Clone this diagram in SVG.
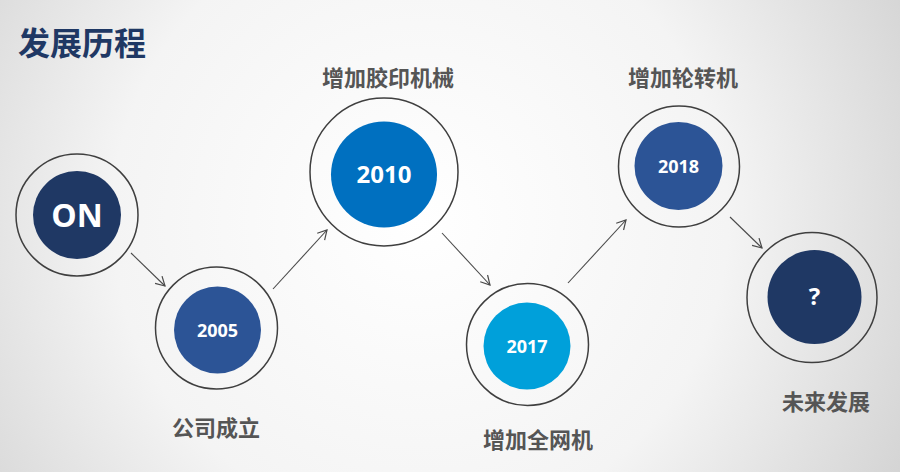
<svg xmlns="http://www.w3.org/2000/svg" width="900" height="472" viewBox="0 0 900 472">
<defs>
<radialGradient id="bg" cx="420" cy="220" r="560" gradientUnits="userSpaceOnUse">
<stop offset="0" stop-color="#ffffff"/>
<stop offset="0.55" stop-color="#f4f4f4"/>
<stop offset="1" stop-color="#d2d2d2"/>
</radialGradient>
<marker id="arr" markerWidth="12" markerHeight="12" refX="10" refY="6" orient="auto" markerUnits="userSpaceOnUse">
<path d="M1,1 L10,6 L1,11" fill="none" stroke="#4a4a4a" stroke-width="1.2"/>
</marker>
</defs>
<style>
.ring{fill:none;stroke:#3f3f3f;stroke-width:1.5}
.lbl{font-family:"Noto Sans CJK SC",sans-serif;font-weight:bold;font-size:22px;fill:#555555;text-anchor:middle}
.num{font-family:"Open Sans","Noto Sans",sans-serif;font-weight:bold;fill:#ffffff;text-anchor:middle}
.conn{stroke:#4a4a4a;stroke-width:1.1;fill:none;marker-end:url(#arr)}
</style>
<rect width="900" height="472" fill="url(#bg)"/>
<text x="18" y="55" font-family="Noto Sans CJK SC,sans-serif" font-weight="bold" font-size="32" fill="#1f3864">发展历程</text>
<g id="connectors">
<line class="conn" x1="131" y1="253" x2="165" y2="286"/>
<line class="conn" x1="273" y1="289" x2="327" y2="230"/>
<line class="conn" x1="442" y1="233" x2="490" y2="285"/>
<line class="conn" x1="568" y1="283" x2="626" y2="220"/>
<line class="conn" x1="730" y1="217" x2="762" y2="248"/>
</g>
<g id="node-on">
<circle class="ring" cx="77" cy="215" r="61"/>
<circle cx="77" cy="215" r="44" fill="#1f3864"/>
<text class="num" x="77" y="227" font-size="32">ON</text>
</g>
<g id="node-2005">
<circle class="ring" cx="216.5" cy="328" r="61"/>
<circle cx="217.5" cy="330" r="43.5" fill="#2c5496"/>
<text class="num" x="217.5" y="336.5" font-size="18">2005</text>
<text class="lbl" x="216" y="436">公司成立</text>
</g>
<g id="node-2010">
<circle class="ring" cx="384" cy="172" r="74"/>
<circle cx="384" cy="174.5" r="53" fill="#0070c0"/>
<text class="num" x="384" y="183" font-size="24">2010</text>
<text class="lbl" x="388" y="86" font-size="23">增加胶印机械</text>
</g>
<g id="node-2017">
<circle class="ring" cx="527.5" cy="344.5" r="61"/>
<circle cx="527" cy="346" r="43.5" fill="#00a0da"/>
<text class="num" x="527" y="352.5" font-size="18">2017</text>
<text class="lbl" x="538" y="448">增加全网机</text>
</g>
<g id="node-2018">
<circle class="ring" cx="679" cy="166.5" r="60.5"/>
<circle cx="678.5" cy="166" r="44" fill="#2c5496"/>
<text class="num" x="678.5" y="172.5" font-size="18">2018</text>
<text class="lbl" x="683" y="86">增加轮转机</text>
</g>
<g id="node-future">
<circle class="ring" cx="812" cy="297.5" r="65"/>
<circle cx="814.5" cy="297" r="47" fill="#1f3864"/>
<text class="num" x="814.5" y="305" font-size="24">?</text>
<text class="lbl" x="826" y="410">未来发展</text>
</g>
</svg>
